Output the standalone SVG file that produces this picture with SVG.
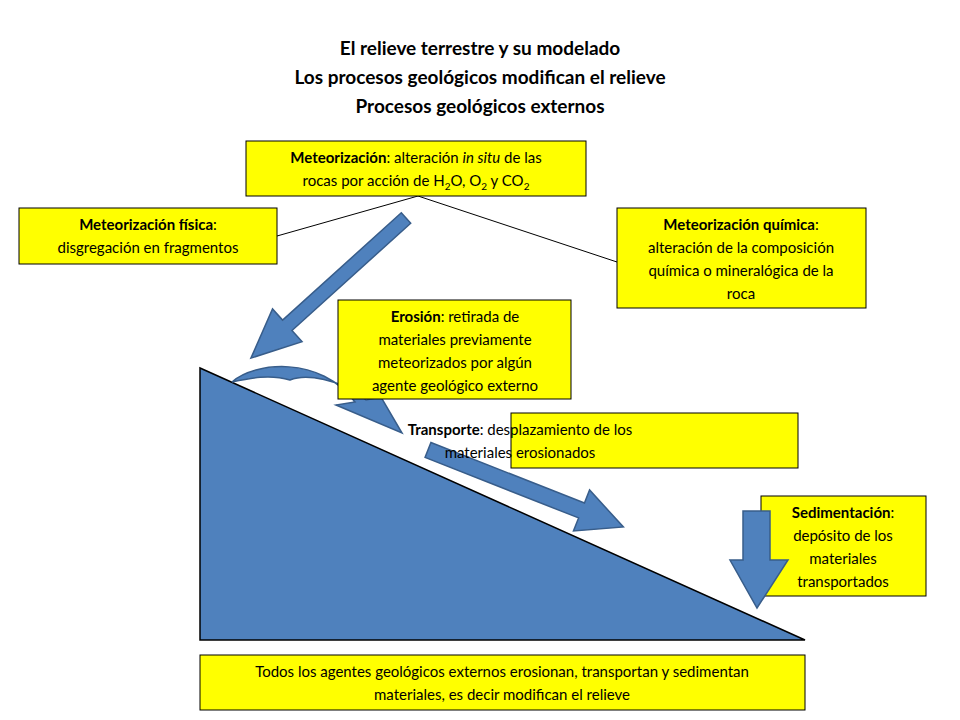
<svg xmlns="http://www.w3.org/2000/svg" width="960" height="720" viewBox="0 0 960 720">
<style>
text{font-family:Lato,"Open Sans","Liberation Sans",sans-serif;font-size:15px;fill:#000;text-anchor:middle}
.t{font-size:19px;font-weight:bold}
.b{font-weight:bold}
.box{fill:#ffff00;stroke:#000;stroke-width:1}
.blue{fill:#4f81bd;stroke:#385d8a;stroke-width:1.5}
</style>
<rect width="960" height="720" fill="#fff"/>
<text class="t" x="480" y="55">El relieve terrestre y su modelado</text>
<text class="t" x="480" y="84">Los procesos geológicos modifican el relieve</text>
<text class="t" x="480" y="113">Procesos geológicos externos</text>
<g id="connectors">
<line x1="418" y1="196" x2="277" y2="236" stroke="#000"/>
<line x1="418" y1="196" x2="617" y2="262" stroke="#000"/>
</g>
<g id="slope"><polygon points="200,368 200,640 805,640" fill="#4f81bd" stroke="#000" stroke-width="1.5"/></g>
<g id="arrow-meteo"><polygon class="blue" transform="translate(406,218) rotate(137.9)" points="0,-7 160,-7 160,-22 209,0 160,22 160,7 0,7"/></g>
<g id="arrow-erosion"><path class="blue" d="M232,382 C255,362 320,355 355,402 L336,405 L402,433 L381,397 L366,400 C340,378 305,374 290,380 C270,374 250,378 232,382 Z"/></g>
<g id="arrow-transport"><polygon class="blue" transform="translate(428,450) rotate(21.5)" points="0,-8 165,-8 165,-22 210,0 165,22 165,8 0,8"/></g>
<g id="box-meteo"><rect class="box" x="246" y="141" width="340" height="55"/>
<text x="416" y="163"><tspan class="b">Meteorización</tspan>: alteración <tspan font-style="italic">in situ</tspan> de las</text>
<text x="416" y="186">rocas por acción de H<tspan font-size="10" dy="4">2</tspan><tspan dy="-4">O, O</tspan><tspan font-size="10" dy="4">2</tspan><tspan dy="-4"> y CO</tspan><tspan font-size="10" dy="4">2</tspan></text></g>
<g id="box-fisica"><rect class="box" x="19" y="208" width="258" height="56"/>
<text x="148" y="230"><tspan class="b">Meteorización física</tspan>:</text>
<text x="148" y="253">disgregación en fragmentos</text></g>
<g id="box-quimica"><rect class="box" x="617" y="208" width="249" height="100"/>
<text x="741" y="230"><tspan class="b">Meteorización química</tspan>:</text>
<text x="741" y="253">alteración de la composición</text>
<text x="741" y="276">química o mineralógica de la</text>
<text x="741" y="299">roca</text></g>
<g id="box-erosion"><rect class="box" x="338" y="300" width="233" height="99"/>
<text x="455" y="322"><tspan class="b">Erosión</tspan>: retirada de</text>
<text x="455" y="345">materiales previamente</text>
<text x="455" y="368">meteorizados por algún</text>
<text x="455" y="391">agente geológico externo</text></g>
<g id="box-transporte"><rect class="box" x="511" y="413" width="287" height="55"/>
<text x="520" y="435" text-anchor="start"><tspan class="b">Transporte</tspan>: desplazamiento de los</text>
<text x="520" y="458" text-anchor="start">materiales erosionados</text></g>
<g id="box-sedim"><rect class="box" x="761" y="496" width="165" height="100"/>
<text x="843" y="518"><tspan class="b">Sedimentación</tspan>:</text>
<text x="843" y="541">depósito de los</text>
<text x="843" y="564">materiales</text>
<text x="843" y="587">transportados</text></g>
<g id="arrow-sedim"><polygon class="blue" points="743,511 770,511 770,560 788,560 757,608 730,560 743,560"/></g>
<g id="box-bottom"><rect class="box" x="200" y="655" width="605" height="55"/>
<text x="502" y="677">Todos los agentes geológicos externos erosionan, transportan y sedimentan</text>
<text x="502" y="700">materiales, es decir modifican el relieve</text></g>
</svg>
